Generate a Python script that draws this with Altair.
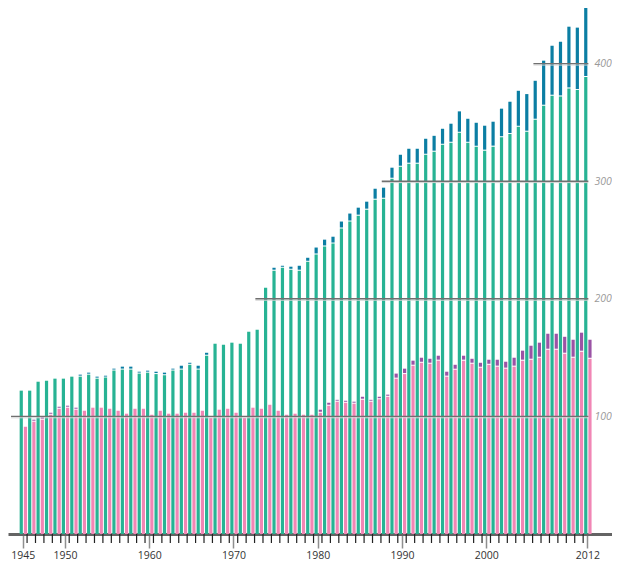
import altair as alt
import pandas as pd

# ---------------- data ----------------
years = list(range(1945, 2013))

green = [121.9, 121.9, 129.5, 130.4, 132.1, 132.1, 133.8, 133.8, 135.5, 132.1,
         133.0, 139.0, 139.8, 139.8, 136.4, 137.2, 136.0, 135.0, 139.0, 139.8,
         143.9, 139.8, 151.6, 161.8, 161.0, 162.7, 161.8, 172.0, 173.7, 209.5,
         223.9, 226.4, 224.7, 223.9, 231.5, 237.7, 244.5, 247.0, 259.8, 265.7,
         270.7, 275.8, 284.3, 285.1, 302.1, 312.3, 314.9, 314.9, 322.5, 325.1,
         331.0, 332.7, 341.2, 332.7, 329.3, 326.0, 329.4, 337.4, 340.1, 346.3,
         342.1, 352.3, 364.2, 372.7, 372.1, 378.9, 377.5, 388.6]

blue = [0, 0, 0, 0, 0, 0, 0, 1.7, 1.7, 1.7,
        1.6, 1.6, 2.5, 2.5, 1.6, 1.7, 2.0, 2.2, 1.6, 3.3,
        1.7, 3.3, 2.5, 0, 0, 0, 0, 0, 0, 0,
        2.5, 1.7, 2.6, 4.2, 3.4, 5.9, 5.8, 5.8, 5.9, 6.8,
        6.8, 6.8, 9.3, 9.4, 9.4, 10.2, 12.7, 12.7, 13.6, 13.5,
        13.6, 16.2, 18.2, 20.4, 20.4, 21.2, 21.2, 24.3, 27.5, 30.6,
        32.0, 33.1, 38.3, 42.5, 46.5, 52.5, 53.1, 60.0]

pink = [91.2, 95.5, 97.2, 101.4, 106.5, 107.4, 105.7, 104.8, 107.4, 107.4,
        106.5, 104.8, 102.3, 106.5, 106.5, 101.4, 104.8, 102.3, 102.3, 103.1,
        103.1, 104.8, 98.9, 105.7, 106.5, 103.1, 98.9, 107.4, 106.5, 109.9,
        104.8, 101.4, 102.3, 101.4, 101.4, 103.1, 109.1, 112.5, 111.6, 110.8,
        114.2, 112.5, 114.6, 116.7, 132.1, 136.0, 143.1, 145.6, 144.8, 147.4,
        133.8, 139.7, 147.4, 144.8, 141.4, 143.9, 142.3, 140.6, 142.3, 147.4,
        148.2, 149.9, 156.7, 156.7, 153.3, 149.9, 155.0, 149.0]

purple = [0, 1.7, 2.5, 1.7, 1.7, 1.7, 1.7, 0, 0, 0,
          0, 0, 0, 0, 0, 0, 0, 0, 0, 0,
          0, 0, 0, 0, 0, 0, 0, 0, 0, 0,
          0, 0, 0, 0, 0, 2.6, 2.5, 1.6, 1.7, 1.7,
          2.5, 1.6, 2.1, 1.8, 4.3, 4.6, 4.3, 4.3, 4.2, 4.2,
          4.2, 4.2, 4.2, 4.2, 4.2, 4.3, 5.9, 5.9, 7.6, 8.5,
          11.9, 12.8, 13.6, 13.6, 14.4, 15.3, 16.2, 16.2]

x_label_years = [1945, 1950, 1960, 1970, 1980, 1990, 2000, 2012]
grid_values = [100, 200, 300, 400]

# ---------------- tables ----------------
df = pd.DataFrame({"year": years, "green": green, "blue": blue,
                   "pink": pink, "purple": purple})
df["green_total"] = df["green"] + df["blue"]
df["pink_total"] = df["pink"] + df["purple"]
df["tick_x"] = df["year"] + 0.5

grid_rows = []
for v in grid_values:
    first = next(y for y, t in zip(years, df["green_total"]) if t > v)
    grid_rows.append({"value": v, "start": first - 1, "end": years[-1]})
grid_df = pd.DataFrame(grid_rows)

# ---------------- styling ----------------
GREEN = "#27b394"
BLUE = "#0b7ea3"
PINK = "#f186b5"
PURPLE = "#9b53a5"

W, H = 604, 526
xscale = alt.Scale(domain=[1943.83, 2014.33], nice=False, zero=False)
yscale = alt.Scale(domain=[0, 447.3], nice=False, zero=True)

xaxis = alt.Axis(values=x_label_years, format="d", title=None, grid=False,
                 tickSize=14, tickColor="#8f8f8f", tickWidth=1.5,
                 domainColor="#646464", domainWidth=3,
                 labelFont="Open Sans", labelFontSize=10.5,
                 labelColor="#333333", labelPadding=2,
                 labelFlush=False, labelOverlap=False)
yaxis = alt.Axis(orient="right", values=grid_values, title=None, grid=False,
                 ticks=False, tickSize=0, domain=False, labelPadding=0,
                 offset=-18, labelFont="Open Sans",
                 labelFontStyle="italic", labelFontSize=10.5,
                 labelColor="#9a9a9a")

X = lambda f: alt.X(f, type="quantitative", scale=xscale, axis=xaxis)
Y = lambda f: alt.Y(f, type="quantitative", scale=yscale, axis=yaxis)

base = alt.Chart(df)
BW = 3.2

green_bars = base.mark_bar(width=BW, xOffset=-1.6, color=GREEN, clip=True).encode(
    x=X("year"), y=Y("green"))
blue_bars = base.transform_filter("datum.blue > 0").mark_bar(
    width=BW, xOffset=-1.6, color=BLUE, y2Offset=-1, clip=True).encode(
    x=X("year"), y=Y("green_total"), y2="green:Q")
pink_bars = base.mark_bar(width=BW, xOffset=2.6, color=PINK, clip=True).encode(
    x=X("year"), y=Y("pink"))
purple_bars = base.transform_filter("datum.purple > 0").mark_bar(
    width=BW, xOffset=2.6, color=PURPLE, y2Offset=-1, clip=True).encode(
    x=X("year"), y=Y("pink_total"), y2="pink:Q")

short_ticks = base.transform_filter("datum.year < 2012").mark_rule(
    color="#222222", strokeWidth=1.2).encode(
    x=X("tick_x"), y=alt.value(H), y2=alt.value(H + 9))

grid_shadow = alt.Chart(grid_df).mark_rule(
    color="#d4d4d4", strokeWidth=1, xOffset=-3.4, x2Offset=1, yOffset=1.4,
    y2Offset=1.4, clip=True).encode(
    x=X("start"), x2="end:Q", y=Y("value"))
grid_lines = alt.Chart(grid_df).mark_rule(
    color="#707070", strokeWidth=1.4, xOffset=-3.4, x2Offset=1, clip=True).encode(
    x=X("start"), x2="end:Q", y=Y("value"))

chart = alt.layer(
    green_bars, blue_bars, pink_bars, purple_bars,
    short_ticks, grid_shadow, grid_lines
).properties(
    width=W, height=H,
    padding={"left": 0, "top": 0, "right": 0, "bottom": 26},
    autosize=alt.AutoSizeParams(type="none"),
).configure_view(stroke=None)

chart.save("out.html", embed_options={"renderer": "svg", "actions": False})
